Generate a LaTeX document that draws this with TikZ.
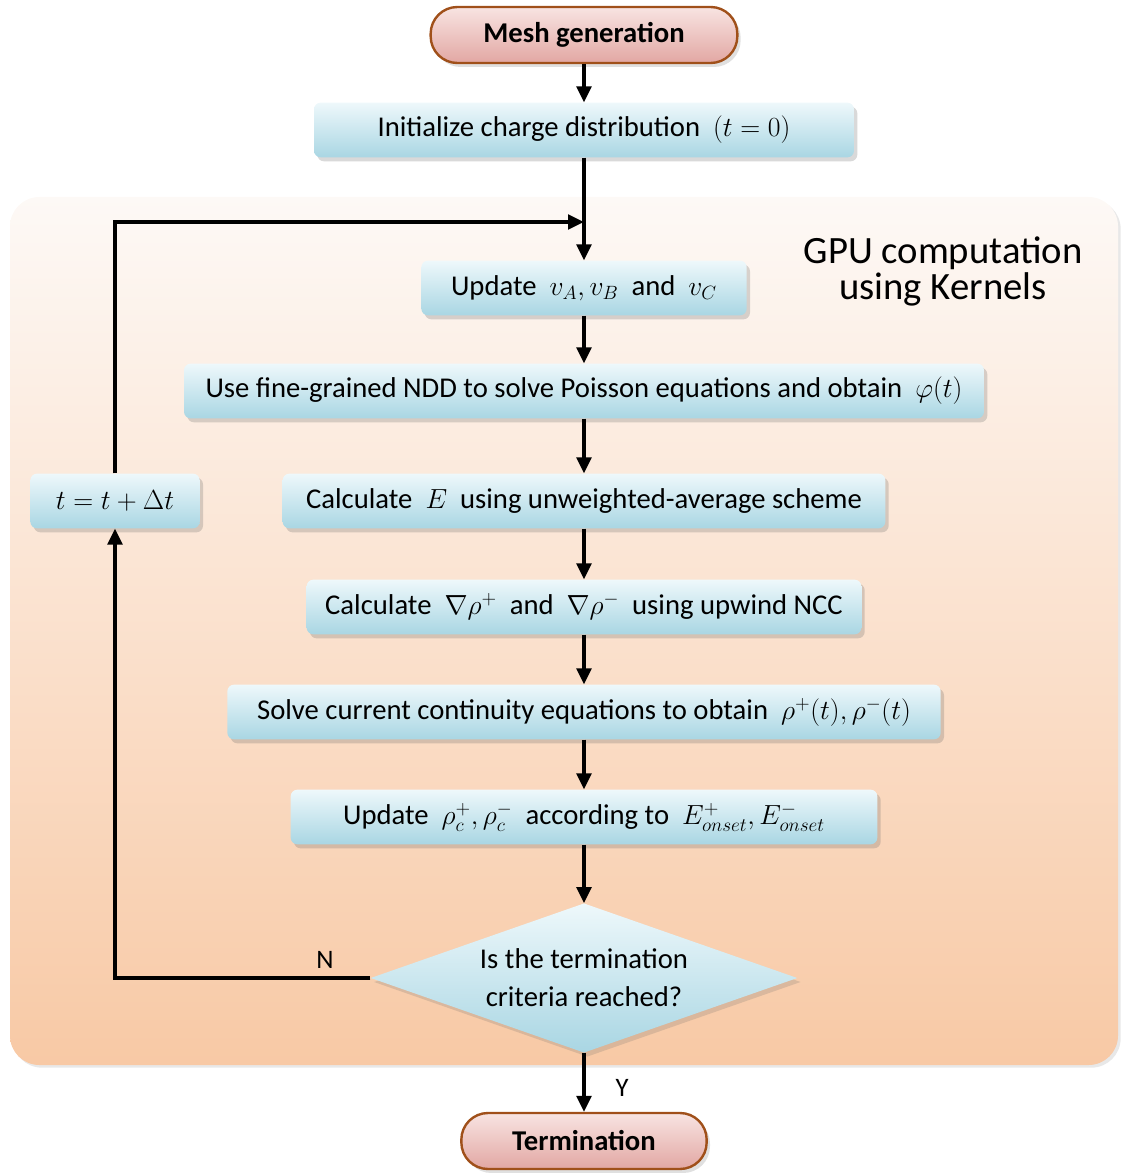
\documentclass[tikz,border=0pt]{standalone}
\usepackage{fontspec}
\setmainfont{Carlito}
\usetikzlibrary{arrows.meta, positioning, shapes.geometric, shadows}

\definecolor{boxtop}{HTML}{EEF8FB}
\definecolor{boxbot}{HTML}{A9D6E3}
\definecolor{termtop}{HTML}{F8E4E2}
\definecolor{termbot}{HTML}{E2A7A3}
\definecolor{termline}{HTML}{A0501A}
\definecolor{paneltop}{HTML}{FDF9F6}
\definecolor{panelbot}{HTML}{F8C9A5}

\begin{document}
\begin{tikzpicture}[x=0.75pt, y=-0.75pt,
    >={Triangle[length=12pt, width=11pt]},
    flow/.style={->, line width=2.6pt},
    stepbox/.style={rectangle, rounded corners=5pt, top color=boxtop, bottom color=boxbot,
      minimum height=41pt, inner xsep=0pt, font=\fontsize{21.5}{26}\selectfont,
      drop shadow={shadow xshift=2.5pt, shadow yshift=-3pt, opacity=0.25, fill=black!60}},
    term/.style={rectangle, rounded corners=20pt, draw=termline, line width=1.8pt,
      top color=termtop, bottom color=termbot, minimum height=42pt,
      font=\fontsize{21.5}{26}\selectfont\bfseries,
      drop shadow={shadow xshift=2.5pt, shadow yshift=-3pt, opacity=0.2, fill=black!60}},
    decision/.style={diamond, aspect=2.85, inner sep=0pt, top color=boxtop, bottom color=boxbot,
      minimum width=320pt, minimum height=112pt, align=center,
      font=\fontsize{21.5}{28.5}\selectfont,
      drop shadow={shadow xshift=2.5pt, shadow yshift=-3pt, opacity=0.2, fill=black!60}},
    lbl/.style={font=\fontsize{20}{24}\selectfont},
  ]
  \useasboundingbox (0,0) rectangle (1120,1173);

  % GPU panel
  \path[rounded corners=22pt, top color=paneltop, bottom color=panelbot,
    drop shadow={shadow xshift=2pt, shadow yshift=-2pt, opacity=0.15, fill=black!60}]
    (10,197) rectangle (1118,1065);
  \node[align=center, font=\fontsize{29}{27}\selectfont] (gpu) at (943,271)
    {GPU computation\\using Kernels};

  % main chain
  \node[term, minimum width=230pt] (mesh) at (584,35) {Mesh generation};
  \node[stepbox, minimum width=405pt] (init) at (584,130)
    {Initialize charge distribution~~$(t=0)$};
  \node[stepbox, minimum width=244pt] (updv) at (584,288)
    {Update~~$v_A, v_B$~~and~~$v_C$};
  \node[stepbox, minimum width=600pt] (ndd) at (584,391)
    {Use fine-grained NDD to solve Poisson equations and obtain~~$\varphi(t)$};
  \node[stepbox, minimum width=452pt] (calcE) at (584,501)
    {Calculate~~$E$~~using unweighted-average scheme};
  \node[stepbox, minimum width=416pt] (grad) at (584,607)
    {Calculate~~$\nabla\rho^+$~~and~~$\nabla\rho^-$~~using upwind NCC};
  \node[stepbox, minimum width=535pt] (cont) at (584,712)
    {Solve current continuity equations to obtain~~$\rho^+(t), \rho^-(t)$};
  \node[stepbox, minimum width=440pt] (updrho) at (584,817)
    {Update~~$\rho_c^+, \rho_c^-$~~according to~~$E_{onset}^+, E_{onset}^-$};
  \node[decision] (crit) at (584,978) {Is the termination\\criteria reached?};
  \node[term, minimum width=184pt] (stop) at (584,1141) {Termination};

  % time step
  \node[stepbox, minimum width=127pt] (tinc) at (115,501) {$t = t + \Delta t$};
  \coordinate (join) at (584,222);

  \draw[flow] (mesh) -- (init);
  \draw[flow] (init) -- (updv);
  \draw[flow] (updv) -- (ndd);
  \draw[flow] (ndd) -- (calcE);
  \draw[flow] (calcE) -- (grad);
  \draw[flow] (grad) -- (cont);
  \draw[flow] (cont) -- (updrho);
  \draw[flow] (updrho) -- (crit);
  \draw[flow] (crit) -- (stop);
  \draw[flow] (crit.west) -| (tinc);
  \draw[flow] (tinc) |- (join);
  \node[lbl] (yes) at (622,1088) {Y};
  \node[lbl] (no) at (325,960) {N};
\end{tikzpicture}
\end{document}
